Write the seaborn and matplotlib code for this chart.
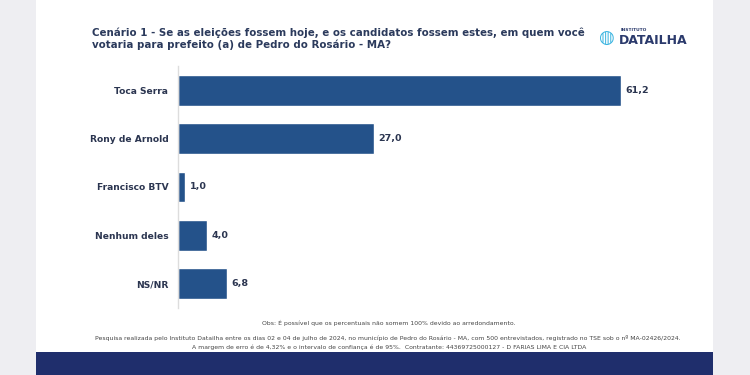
import matplotlib
matplotlib.use("Agg")
import matplotlib.pyplot as plt
import seaborn as sns
import pandas as pd
from matplotlib.patches import Rectangle

categories = ["Toca Serra", "Rony de Arnold", "Francisco BTV", "Nenhum deles", "NS/NR"]
values = [61.2, 27.0, 1.0, 4.0, 6.8]
value_labels = ["61,2", "27,0", "1,0", "4,0", "6,8"]

title = ("Cenário 1 - Se as eleições fossem hoje, e os candidatos fossem estes, em quem você\n"
         "votaria para prefeito (a) de Pedro do Rosário - MA?")
obs = "Obs: É possível que os percentuais não somem 100% devido ao arredondamento."
note1 = ("Pesquisa realizada pelo Instituto Datailha entre os dias 02 e 04 de julho de 2024, no município de Pedro do Rosário - MA, "
         "com 500 entrevistados, registrado no TSE sob o nº MA-02426/2024.")
note2 = ("A margem de erro é de 4,32% e o intervalo de confiança é de 95%.  Contratante: 44369725000127 - D FARIAS LIMA E CIA LTDA")

df = pd.DataFrame({"cat": categories, "val": values})

sns.set_theme(style="white")
plt.rcParams["font.family"] = ["DejaVu Sans"]

fig = plt.figure(figsize=(7.5, 3.75), dpi=100)
fig.patch.set_facecolor("#EEEEF2")
fig.add_artist(Rectangle((36/750, 0), (713-36)/750, 1, transform=fig.transFigure,
                         facecolor="white", edgecolor="none", zorder=0))
fig.add_artist(Rectangle((36/750, 0), (713-36)/750, 23/375, transform=fig.transFigure,
                         facecolor="#1F2E6C", edgecolor="none", zorder=1))

ax = fig.add_axes([178/750, 1 - 308/375, 507/750, 242/375])
ax.set_facecolor("none")
bar_color = "#24528A"
sns.barplot(data=df, x="val", y="cat", orient="h", color=bar_color, width=0.64,
            ax=ax, saturation=1)
ax.set_xlim(0, 70)
ax.set_xlabel("")
ax.set_ylabel("")
ax.set_xticks([])
for s in ["top", "right", "bottom"]:
    ax.spines[s].set_visible(False)
ax.spines["left"].set_color("#DDDDDD")
ax.spines["left"].set_linewidth(1)
ax.tick_params(axis="y", length=0, pad=7)
for lab in ax.get_yticklabels():
    lab.set_fontsize(6.6)
    lab.set_fontweight("bold")
    lab.set_color("#2B3550")

for i, (v, t) in enumerate(zip(values, value_labels)):
    ax.text(v + 0.6, i, t, va="center", ha="left", fontsize=6.8, fontweight="bold", color="#2B3550")

fig.text(92/750, 1 - 39/375, title, fontsize=7.4, fontweight="bold", color="#2B3A5C",
         ha="left", va="center", linespacing=1.15)
# logo
fig.text(598/750, 1 - 38/375, "◍", fontsize=13, color="#3BB4E0", ha="left", va="center")
fig.text(621/750, 1 - 30/375, "INSTITUTO", fontsize=3.2, color="#2B3A6C", ha="left", va="center", fontweight="bold")
fig.text(619/750, 1 - 41/375, "DATAILHA", fontsize=9, color="#2B3A6C", ha="left", va="center", fontweight="bold")

fig.text(389/750, 1 - 323/375, obs, fontsize=4.4, color="#444444", ha="center", va="center")
fig.text(388/750, 1 - 338/375, note1, fontsize=4.45, color="#444444", ha="center", va="center")
fig.text(389/750, 1 - 347/375, note2, fontsize=4.4, color="#444444", ha="center", va="center")

fig.savefig("out.png", dpi=100)
